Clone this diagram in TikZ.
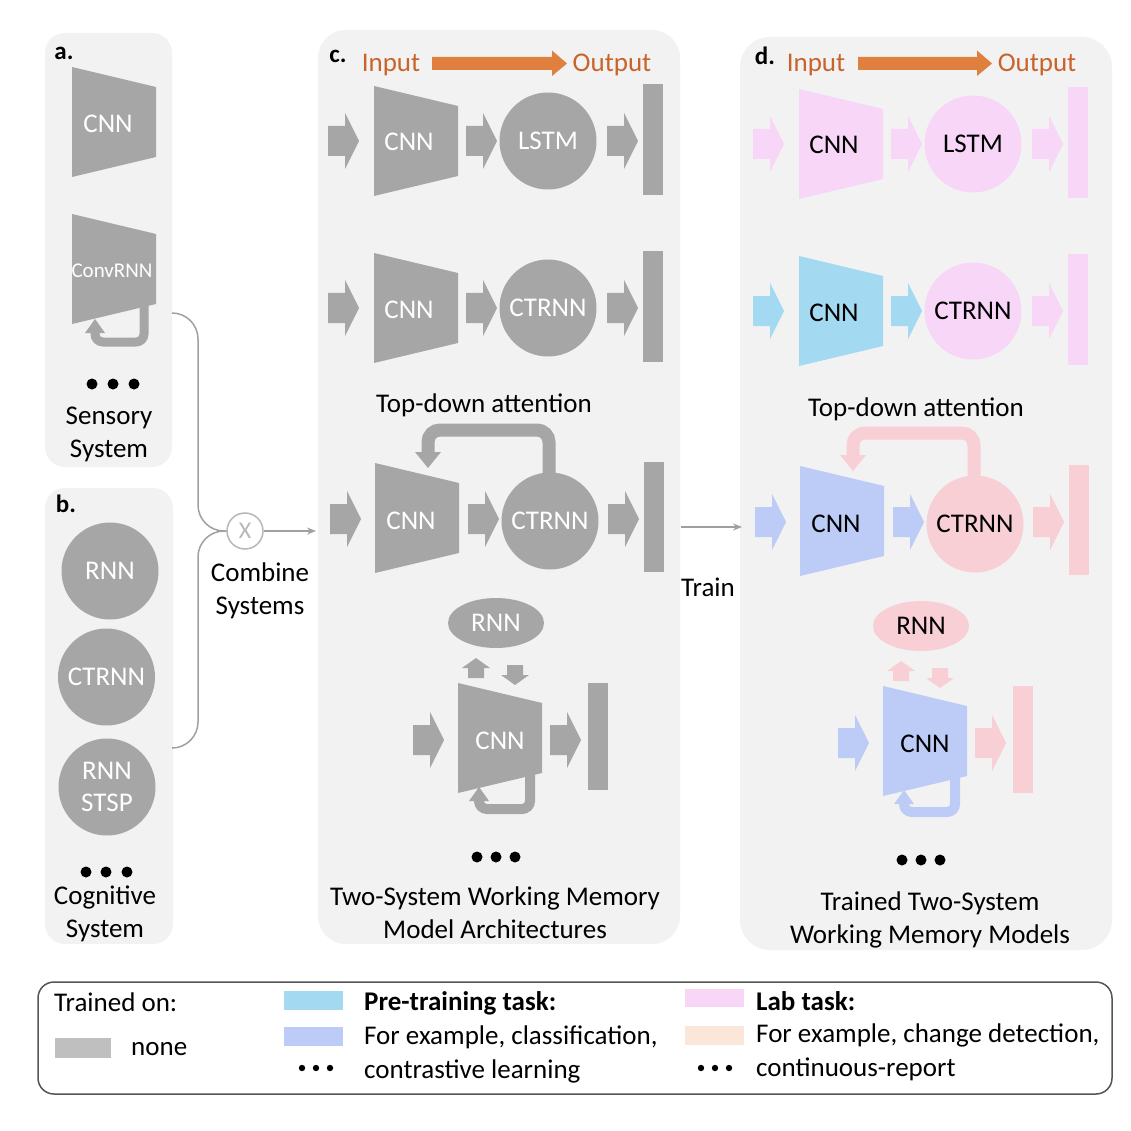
\documentclass[tikz,border=0pt]{standalone}
\usepackage{fontspec}
\setmainfont{Carlito}
\usetikzlibrary{arrows.meta,shapes.geometric}
\definecolor{pbg}{HTML}{F2F2F2}
\definecolor{gshape}{HTML}{A6A6A6}
\definecolor{labpink}{HTML}{F7D6F7}
\definecolor{preblue}{HTML}{A4DAF1}
\definecolor{peri}{HTML}{BDCCF6}
\definecolor{redpink}{HTML}{F7CFD4}
\definecolor{peach}{HTML}{FBE7D9}
\definecolor{orarrow}{HTML}{E0803F}
\definecolor{ortext}{HTML}{C8642A}
\definecolor{legswatch}{HTML}{BFBFBF}
\definecolor{conncol}{HTML}{A0A0A0}
\definecolor{xgray}{HTML}{B8B8B8}
\definecolor{legborder}{HTML}{555555}
% block arrow pointing right: left x, centre y, colour
\newcommand\myRarr[3]{\fill[#3] (#1,#2-15) -- (#1+17,#2-15) -- (#1+17,#2-28) -- (#1+31,#2) -- (#1+17,#2+28) -- (#1+17,#2+15) -- (#1,#2+15) -- cycle;}
% trapezoid: left x, centre y, colour
\newcommand\myTrap[3]{\fill[#3] (#1,#2-55) -- (#1+84,#2-35) -- (#1+84,#2+35) -- (#1,#2+55) -- cycle;}
% small up arrow: centre x, tip y, colour
\newcommand\myUarr[3]{\fill[#3] (#1-8,#2+20) -- (#1-8,#2+10) -- (#1-14,#2+10) -- (#1,#2) -- (#1+14,#2+10) -- (#1+8,#2+10) -- (#1+8,#2+20) -- cycle;}
% small down arrow: centre x, tip y, colour
\newcommand\myDarr[3]{\fill[#3] (#1-8,#2-20) -- (#1-8,#2-10) -- (#1-14,#2-10) -- (#1,#2) -- (#1+14,#2-10) -- (#1+8,#2-10) -- (#1+8,#2-20) -- cycle;}
\newcommand\myModels{%
  % row 1
  \myRarr{328}{141}{rowA}
  \myTrap{374}{141}{rowA}
  \node[lbl,text=tx] (cnnA) at (409,142) {CNN};
  \myRarr{466}{141}{rowA}
  \node[mc,fill=rowA] (lstm) at (548,141) {LSTM};
  \myRarr{607}{141}{rowA}
  \fill[rowA] (643,84) rectangle (663,195);
  % row 2
  \myRarr{328}{308}{rowBin}
  \myTrap{374}{308}{rowBin}
  \node[lbl,text=tx] (cnnB) at (409,310) {CNN};
  \myRarr{466}{308}{rowBin}
  \node[mc,fill=rowBout] (ctrnnB) at (548,308) {CTRNN};
  \myRarr{607}{308}{rowBout}
  \fill[rowBout] (643,251) rectangle (663,362);
  % row 3
  \draw[rowCout, line width=13pt, rounded corners=12pt] (549,480) -- (549,430) -- (428,430) -- (428,453);
  \fill[rowCout] (415,452) -- (441,452) -- (428,468) -- cycle;
  \myRarr{330}{519}{rowCin}
  \myTrap{375}{518}{rowCin}
  \node[lbl,text=tx] (cnnC) at (411,521) {CNN};
  \myRarr{468}{519}{rowCin}
  \node[mc,fill=rowCout] (ctrnnC) at (550,521) {CTRNN};
  \myRarr{608}{519}{rowCout}
  \fill[rowCout] (644,462) rectangle (664,572);
  % row 4
  \node[ellipse, fill=rowDout, minimum width=96pt, minimum height=50pt, inner sep=0pt, font=\fontsize{27}{32}\selectfont, text=tx] (rnnD) at (496,623) {RNN};
  \myUarr{476}{658}{rowDout}
  \myDarr{515}{685}{rowDout}
  \draw[rowDin, line width=10pt, rounded corners=8pt] (530,774) -- (530,809) -- (479,809) -- (479,800);
  \fill[rowDin] (469,801) -- (489,801) -- (479,787) -- cycle;
  \myRarr{413}{740}{rowDin}
  \myTrap{458}{738}{rowDin}
  \node[lbl,text=tx] (cnnD) at (500,741) {CNN};
  \myRarr{550}{740}{rowDout}
  \fill[rowDout] (588,683) rectangle (608,790);
  \fill[black] (477,857) circle (5.5) (496,857) circle (5.5) (515,857) circle (5.5);
}
\begin{document}
\begin{tikzpicture}[x=1pt,y=-1pt,
  lbl/.style={inner sep=0pt, font=\fontsize{27}{33}\selectfont, align=center},
  boldlbl/.style={inner sep=0pt, font=\fontsize{25}{30}\selectfont\bfseries},
  mc/.style={circle, minimum size=97pt, inner sep=0pt, font=\fontsize{27}{32}\selectfont, text=tx},
  gcirc/.style={circle, fill=gshape, minimum size=97pt, inner sep=0pt, font=\fontsize{27}{32}\selectfont, text=white, align=center},
  panel/.style={rectangle, fill=pbg, inner sep=0pt, outer sep=0pt},
  conn/.style={draw=conncol, line width=1.5pt}]
\useasboundingbox (0,0) rectangle (1131,1131);
\fill[white] (0,0) rectangle (1131,1131);

% panels
\node[panel, rounded corners=20pt, minimum width=127pt, minimum height=434pt] (pa) at (108.5,250) {};
\node[panel, rounded corners=20pt, minimum width=128pt, minimum height=456pt] (pb) at (109,716) {};
\node[panel, rounded corners=28pt, minimum width=362pt, minimum height=914pt] (pc) at (499,487) {};
\node[panel, rounded corners=30pt, minimum width=372pt, minimum height=913pt] (pd) at (926,493.5) {};

% panel a
\node[boldlbl] (la) at (64,53) {a.};
\myTrap{72}{122}{gshape}
\node[lbl,text=white] (acnn) at (108,124) {CNN};
\myTrap{72}{269}{gshape}
\node[lbl,text=white,font=\fontsize{21}{25}\selectfont] (aconv) at (112,271) {ConvRNN};
\draw[gshape, line width=9pt, rounded corners=8pt] (144,306) -- (144,342) -- (95,342) -- (95,332);
\fill[gshape] (85,333) -- (105,333) -- (95,319) -- cycle;
\fill[black] (92,384) circle (5.5) (113,384) circle (5.5) (134,384) circle (5.5);
\node[lbl] (asys) at (109,434) {Sensory\\System};

% panel b
\node[boldlbl] (lb) at (66,504) {b.};
\node[gcirc] (brnn) at (110,571) {RNN};
\node[gcirc] (bctrnn) at (106.5,677) {CTRNN};
\node[gcirc, font=\fontsize{27}{32}\selectfont] (bstsp) at (107,787) {RNN\\STSP};
\fill[black] (86,872) circle (5.5) (106,872) circle (5.5) (127,872) circle (5.5);
\node[lbl] (bsys) at (105,914) {Cognitive\\System};

% combine
\coordinate (aout) at (172,313);
\coordinate (bout) at (172,748);
\node[circle, draw=xgray, fill=white, line width=1.5pt, minimum size=36pt, inner sep=0pt, text=xgray, font=\fontsize{24}{28}\selectfont] (cx) at (245,531) {X};
\draw[conn, rounded corners=26pt] (aout) -- (198,313) -- (198,531) -- (cx.west);
\draw[conn, rounded corners=26pt] (bout) -- (198,748) -- (198,531) -- (cx.west);
\coordinate (cin) at (316,531);
\draw[conn, -{Stealth[length=9pt,width=7pt]}] (cx.east) -- (cin);
\node[lbl] (comb) at (260,591) {Combine\\Systems};

% panel c
\node[boldlbl] (lc) at (338,56) {c.};
\node[lbl,text=ortext] (cinp) at (391,65) {Input};
\node[lbl,text=ortext] (coutp) at (612,65) {Output};
\fill[orarrow] (432,57) -- (552,57) -- (552,50.5) -- (567,63.5) -- (552,76) -- (552,70) -- (432,70) -- cycle;
\colorlet{rowA}{gshape}\colorlet{rowBin}{gshape}\colorlet{rowBout}{gshape}
\colorlet{rowCin}{gshape}\colorlet{rowCout}{gshape}\colorlet{rowDin}{gshape}\colorlet{rowDout}{gshape}
\colorlet{tx}{white}
\myModels
\node[lbl] (ctda) at (484,405) {Top-down attention};
\node[lbl] (ccap) at (495,913) {Two-System Working Memory\\Model Architectures};

% train
\coordinate (trs) at (681,527);
\coordinate (tre) at (742,527);
\draw[conn, -{Stealth[length=9pt,width=7pt]}] (trs) -- (tre);
\node[lbl] (train) at (708,587) {Train};

% panel d
\node[boldlbl] (ld) at (765,56) {d.};
\node[lbl,text=ortext] (dinp) at (816,65) {Input};
\node[lbl,text=ortext] (doutp) at (1037,65) {Output};
\fill[orarrow] (858,57) -- (977,57) -- (977,50.5) -- (992,63.5) -- (977,76) -- (977,70) -- (858,70) -- cycle;
\colorlet{rowA}{labpink}\colorlet{rowBin}{preblue}\colorlet{rowBout}{labpink}
\colorlet{rowCin}{peri}\colorlet{rowCout}{redpink}\colorlet{rowDin}{peri}\colorlet{rowDout}{redpink}
\colorlet{tx}{black}
\begin{scope}[shift={(425,3)}, name prefix=d-]
\myModels
\end{scope}
\node[lbl] (dtda) at (916,409) {Top-down attention};
\node[lbl] (dcap) at (930,920) {Trained Two-System\\Working Memory Models};

% legend
\node[draw=legborder, fill=white, line width=1.5pt, rounded corners=16pt, minimum width=1074pt, minimum height=112pt, inner sep=0pt] (leg) at (575,1038) {};
\node[lbl, anchor=west] (lgt) at (54,1002) {Trained on:};
\fill[legswatch] (55,1038) rectangle (111,1058);
\node[lbl, anchor=west] (lgn) at (131,1049) {none};
\fill[preblue] (284,991) rectangle (343,1010);
\fill[peri] (284,1027) rectangle (343,1046);
\fill[black] (302,1068) circle (3.2) (316,1068) circle (3.2) (330,1068) circle (3.2);
\node[lbl, anchor=west] (lgp1) at (364,1003) {\textbf{Pre-training task:}};
\node[lbl, anchor=west] (lgp2) at (364,1037) {For example, classification,};
\node[lbl, anchor=west] (lgp3) at (364,1071) {contrastive learning};
\fill[labpink] (685,989) rectangle (744,1007);
\fill[peach] (685,1026) rectangle (744,1045);
\fill[black] (701,1068) circle (3.2) (715,1068) circle (3.2) (729,1068) circle (3.2);
\node[lbl, anchor=west] (lgl1) at (756,1001) {\textbf{Lab task:}};
\node[lbl, anchor=west] (lgl2) at (756,1035) {For example, change detection,};
\node[lbl, anchor=west] (lgl3) at (756,1069) {continuous-report};
\end{tikzpicture}
\end{document}
